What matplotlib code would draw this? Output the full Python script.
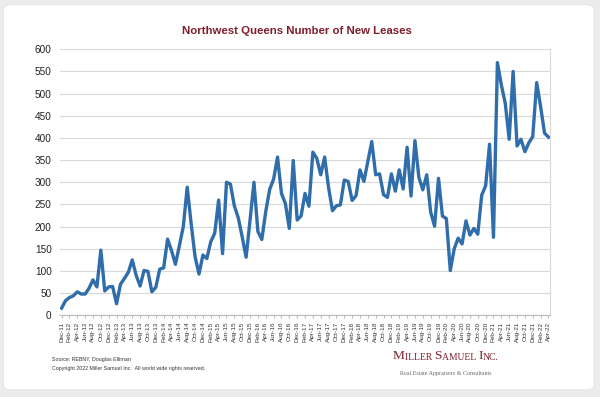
import matplotlib
matplotlib.use("Agg")
import matplotlib.pyplot as plt
from matplotlib.patches import FancyBboxPatch
from matplotlib.text import Annotation

# monthly new leases, Dec-11 .. Apr-22
leases = [16, 33, 40, 44, 53, 48, 48, 61, 80, 64,
          147, 55, 64, 65, 26, 70, 83, 97, 125, 90,
          66, 101, 99, 53, 63, 104, 107, 172, 146, 115,
          157, 200, 289, 207, 132, 93, 136, 128, 166, 185,
          260, 139, 300, 296, 247, 220, 177, 131, 215, 300,
          189, 171, 234, 284, 307, 357, 275, 252, 196, 349,
          215, 224, 275, 246, 368, 354, 317, 357, 288, 236,
          247, 249, 305, 302, 259, 270, 328, 302, 347, 392,
          317, 319, 272, 266, 319, 280, 328, 285, 379, 269,
          394, 311, 283, 317, 233, 201, 309, 224, 218, 101,
          150, 174, 161, 213, 181, 196, 183, 271, 292, 386,
          176, 570, 520, 478, 397, 550, 382, 397, 369, 389,
          403, 525, 471, 411, 402]

months = ["Dec", "Jan", "Feb", "Mar", "Apr", "May", "Jun",
          "Jul", "Aug", "Sep", "Oct", "Nov"]
month_labels = []
for i in range(len(leases)):
    m = months[i % 12]
    yr = 11 + (i + 11) // 12
    month_labels.append("%s-%02d" % (m, yr))

y_ticks = list(range(0, 601, 50))

title = "Northwest Queens Number of New Leases"
source_lines = ["Source: REBNY, Douglas Elliman",
                "Copyright 2022 Miller Samuel Inc.  All world wide rights reserved."]

red = "#7d1f2c"
blue = "#2f6dab"

fig = plt.figure(figsize=(6, 3.97), dpi=100)
fig.patch.set_facecolor("#ececec")
card = FancyBboxPatch((0.006, 0.018), 0.984, 0.97,
                      boxstyle="round,pad=0,rounding_size=0.012",
                      transform=fig.transFigure, facecolor="white",
                      edgecolor="#e2e2e2", linewidth=0.6, zorder=-5)
fig.add_artist(card)

ax = fig.add_axes([0.1, 0.2058, 0.8167, 0.67])
ax.set_facecolor("none")
x = list(range(len(leases)))
ax.plot(x, leases, color=blue, linewidth=2.4, solid_joinstyle="round", zorder=3)

ax.set_xlim(-0.4, 124.4)
ax.set_ylim(0, 600)
ax.set_yticks(y_ticks)
ax.set_yticklabels([str(v) for v in y_ticks], fontsize=7.2,
                   family="Liberation Sans", color="#222222")
ax.set_xticks(x[::2])
ax.set_xticklabels(month_labels[::2], rotation=90, fontsize=4.6,
                   family="Liberation Sans", color="#333333")
ax.grid(axis="y", color="#d9d9d9", linewidth=0.8)
ax.set_axisbelow(True)
ax.tick_params(axis="y", length=0, pad=6)
ax.tick_params(axis="x", length=2.5, width=0.5, color="#999999", pad=2)
for side in ["top", "left"]:
    ax.spines[side].set_visible(False)
ax.spines["right"].set_color("#d9d9d9")
ax.spines["right"].set_linewidth(0.8)
ax.spines["bottom"].set_color("#bbbbbb")
ax.spines["bottom"].set_linewidth(0.8)

fig.text(0.495, 0.923, title, ha="center", va="center", fontsize=8.2,
         fontweight="bold", color=red, family="Liberation Sans")

fig.text(0.087, 0.094, source_lines[0], fontsize=3.8, color="#333333",
         family="Liberation Sans", va="center")
fig.text(0.087, 0.072, source_lines[1], fontsize=3.8, color="#333333",
         family="Liberation Sans", va="center")

# logo in small caps, built from chained text pieces
pieces = [("M", 9.6), ("ILLER ", 6.9), ("S", 9.6), ("AMUEL ", 6.9),
          ("I", 9.6), ("NC.", 6.9)]
prev = fig.text(0.655, 0.087, pieces[0][0], fontsize=pieces[0][1],
                family="Liberation Serif", color=red, va="bottom")
for txt, size in pieces[1:]:
    prev = fig.add_artist(Annotation(txt, xy=(1, 0), xycoords=prev,
                                     va="bottom", ha="left", fontsize=size,
                                     family="Liberation Serif", color=red))
fig.text(0.667, 0.058, "Real Estate Appraisers & Consultants", fontsize=4.3,
         family="Liberation Serif", color="#6a6a6a", va="center")

fig.savefig("out.png", dpi=100)
